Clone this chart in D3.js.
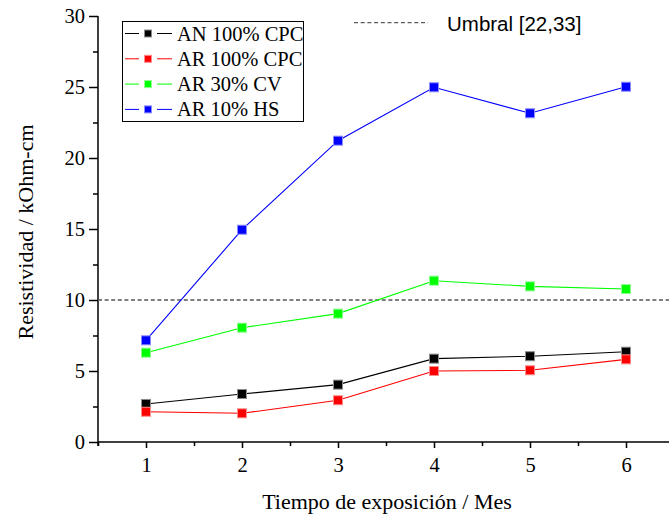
<!DOCTYPE html>
<html>
<head>
<meta charset="utf-8">
<script src="https://cdn.jsdelivr.net/npm/d3@7"></script>
<style>
  html, body { margin: 0; padding: 0; background: #fff; }
  svg { display: block; }
</style>
</head>
<body>
<svg id="chart" width="669" height="516"></svg>
<script>
// ---- Data ----
const months = [1, 2, 3, 4, 5, 6];
const seriesNames = ["AN 100% CPC", "AR 100% CPC", "AR 30% CV", "AR 10% HS"];
const seriesColors = ["#000000", "#ff0000", "#00ff00", "#0000ff"];
const anCPC = [2.68, 3.38, 4.04, 5.87, 6.04, 6.36];
const arCPC = [2.13, 2.02, 2.94, 5.00, 5.05, 5.82];
const arCV  = [6.29, 8.05, 9.04, 11.36, 10.96, 10.77];
const arHS  = [7.16, 14.95, 21.22, 24.98, 23.15, 25.02];
const thresholdValue = 10;
const thresholdLabel = "Umbral [22,33]";
const yTicks = [0, 5, 10, 15, 20, 25, 30];
const xTicks = [1, 2, 3, 4, 5, 6];
const xLabel = "Tiempo de exposición / Mes";
const yLabel = "Resistividad / kOhm-cm";

const allSeries = [anCPC, arCPC, arCV, arHS];

// ---- Layout ----
const svg = d3.select("#chart");
const mLeft = 98, mRight = 669, mTop = 16, mBottom = 442;
const x = d3.scaleLinear().domain([0.5, 6.5]).range([mLeft, mLeft + 96 * 6]);
const y = d3.scaleLinear().domain([0, 30]).range([mBottom, mTop]);

const serif = "'Liberation Serif', 'Times New Roman', serif";
const sans = "'Liberation Sans', Arial, sans-serif";

svg.append("clipPath").attr("id", "clip")
  .append("rect").attr("x", mLeft).attr("y", 0).attr("width", mRight - mLeft).attr("height", mBottom + 1);

// ---- Axes ----
const yAxis = d3.axisLeft(y).tickValues(yTicks).tickSize(9).tickPadding(4);
const yMinor = d3.axisLeft(y).tickValues(d3.range(2.5, 30, 5)).tickSize(5).tickFormat("");
const xAxis = d3.axisBottom(x).tickValues(xTicks).tickSize(6).tickPadding(9).tickFormat(d3.format("d"));
const xMinor = d3.axisBottom(x).tickValues(d3.range(0.5, 6.01, 1)).tickSize(4).tickFormat("");

function styleAxis(g) {
  g.selectAll(".domain").remove();
  g.selectAll("line").attr("stroke", "#000").attr("stroke-width", 1.5);
  g.selectAll("text").attr("fill", "#000").style("font-family", serif).style("font-size", "20.5px");
}

svg.append("g").attr("transform", `translate(${mLeft},0)`).call(yMinor).call(styleAxis);
svg.append("g").attr("transform", `translate(${mLeft},0)`).call(yAxis).call(styleAxis)
  .selectAll("text").attr("dy", "0.34em");
svg.append("g").attr("transform", `translate(0,${mBottom})`).call(xMinor).call(styleAxis);
svg.append("g").attr("transform", `translate(0,${mBottom})`).call(xAxis).call(styleAxis)
  .selectAll("text").attr("dy", "0.71em");

svg.append("line").attr("x1", mLeft).attr("x2", mLeft).attr("y1", mTop).attr("y2", mBottom + 4)
  .attr("stroke", "#000").attr("stroke-width", 1.5);
svg.append("line").attr("x1", mLeft).attr("x2", mRight).attr("y1", mBottom).attr("y2", mBottom)
  .attr("stroke", "#000").attr("stroke-width", 1.5);

// ---- Threshold line ----
svg.append("line")
  .attr("x1", mLeft).attr("x2", mRight)
  .attr("y1", y(thresholdValue)).attr("y2", y(thresholdValue))
  .attr("stroke", "#555").attr("stroke-width", 1.5).attr("stroke-dasharray", "4,2.6");

// ---- Series ----
const line = d3.line().x((d, i) => x(months[i])).y(d => y(d));
const plot = svg.append("g").attr("clip-path", "url(#clip)");
allSeries.forEach((vals, si) => {
  plot.append("path").datum(vals)
    .attr("d", line).attr("fill", "none")
    .attr("stroke", seriesColors[si]).attr("stroke-width", 1.1);
});
allSeries.forEach((vals, si) => {
  const c = seriesColors[si];
  plot.selectAll(null).data(vals).enter().append("rect")
    .attr("x", (d, i) => x(months[i]) - 4.5)
    .attr("y", d => y(d) - 4.5)
    .attr("width", 9).attr("height", 9)
    .attr("fill", c)
    .attr("stroke", d3.interpolateRgb(c, "#ffffff")(0.55)).attr("stroke-width", 1);
});

// ---- Legend (series) ----
const lg = svg.append("g");
lg.append("rect").attr("x", 122.5).attr("y", 21.5).attr("width", 181).attr("height", 100)
  .attr("fill", "#fff").attr("stroke", "#000").attr("stroke-width", 1);
seriesNames.forEach((name, i) => {
  const ly = 33.5 + i * 25.3;
  const c = seriesColors[i];
  lg.append("line").attr("x1", 125).attr("x2", 139).attr("y1", ly).attr("y2", ly).attr("stroke", c).attr("stroke-width", 1);
  lg.append("line").attr("x1", 157).attr("x2", 172).attr("y1", ly).attr("y2", ly).attr("stroke", c).attr("stroke-width", 1);
  lg.append("rect").attr("x", 144.5).attr("y", ly - 3.5).attr("width", 7).attr("height", 7)
    .attr("fill", c).attr("stroke", d3.interpolateRgb(c, "#ffffff")(0.55)).attr("stroke-width", 1);
  lg.append("text").attr("x", 177).attr("y", ly + 7)
    .style("font-family", serif).style("font-size", "20.5px").attr("fill", "#000").text(name);
});

// ---- Legend (threshold) ----
svg.append("line").attr("x1", 354).attr("x2", 428).attr("y1", 22.7).attr("y2", 22.7)
  .attr("stroke", "#333").attr("stroke-width", 1).attr("stroke-dasharray", "4,2.7");
svg.append("text").attr("x", 447).attr("y", 30.5)
  .style("font-family", sans).style("font-size", "20.5px").attr("fill", "#000").text(thresholdLabel);

// ---- Axis titles ----
svg.append("text").attr("x", 387).attr("y", 509).attr("text-anchor", "middle")
  .style("font-family", serif).style("font-size", "22px").attr("fill", "#000").text(xLabel);
svg.append("text").attr("transform", "translate(33,232) rotate(-90)").attr("text-anchor", "middle")
  .style("font-family", serif).style("font-size", "22px").attr("fill", "#000").text(yLabel);
</script>
</body>
</html>
